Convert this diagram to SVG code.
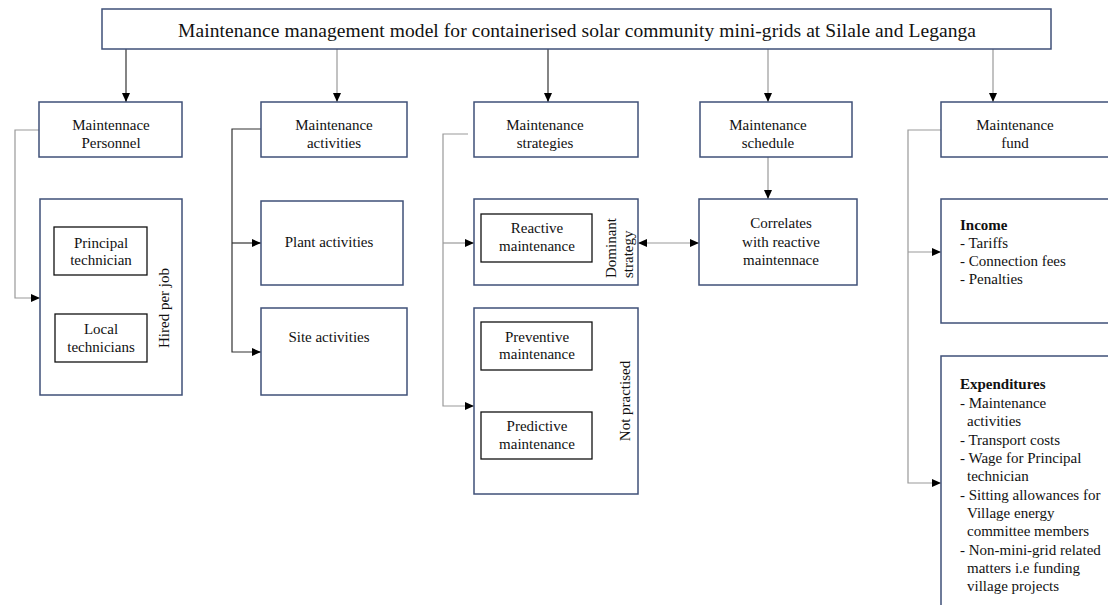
<svg xmlns="http://www.w3.org/2000/svg" width="1108" height="605" viewBox="0 0 1108 605">
  <style>
    text { font-family: "Liberation Serif", "Times New Roman", serif; font-size: 15px; fill: #111; }
    .title { font-size: 19.5px; }
    .mid { text-anchor: middle; }
    .box { fill: #fff; stroke: #3f5078; stroke-width: 1.5; }
    .inner { fill: #fff; stroke: #111; stroke-width: 1.3; }
    .line { fill: none; stroke: #999; stroke-width: 1.2; }
    .dark { stroke: #333; }
    .bold { font-weight: bold; }
  </style>
  <defs>
    <marker id="arrow" markerWidth="9" markerHeight="8" refX="9" refY="4" orient="auto-start-reverse" markerUnits="userSpaceOnUse">
      <path d="M0,0 L9,4 L0,8 z" fill="#000"/>
    </marker>
  </defs>

  <rect width="1108" height="605" fill="#fff"/>

  <!-- connectors -->
  <g id="connectors">
    <line class="line dark" x1="126" y1="49" x2="126" y2="102" marker-end="url(#arrow)"/>
    <line class="line" x1="337" y1="49" x2="337" y2="102" marker-end="url(#arrow)"/>
    <line class="line dark" x1="548" y1="49" x2="548" y2="102" marker-end="url(#arrow)"/>
    <line class="line" x1="768" y1="49" x2="768" y2="102" marker-end="url(#arrow)"/>
    <line class="line" x1="993" y1="49" x2="993" y2="102" marker-end="url(#arrow)"/>

    <!-- personnel -->
    <polyline class="line" points="39,130 15,130 15,298 40,298" marker-end="url(#arrow)"/>

    <!-- activities -->
    <polyline class="line dark" points="261,129 232,129 232,352 261,352" marker-end="url(#arrow)"/>
    <line class="line dark" x1="232" y1="243" x2="261" y2="243" marker-end="url(#arrow)"/>

    <!-- strategies -->
    <polyline class="line" points="468,134 443,134 443,406 474,406" marker-end="url(#arrow)"/>
    <line class="line" x1="443" y1="243" x2="474" y2="243" marker-end="url(#arrow)"/>

    <!-- schedule -->
    <line class="line" x1="768" y1="157" x2="768" y2="199" marker-end="url(#arrow)"/>
    <line class="line" x1="638" y1="243" x2="699" y2="243" marker-start="url(#arrow)" marker-end="url(#arrow)"/>

    <!-- fund -->
    <polyline class="line" points="941,130 908,130 908,483 941,483" marker-end="url(#arrow)"/>
    <line class="line" x1="908" y1="252" x2="941" y2="252" marker-end="url(#arrow)"/>
  </g>

  <!-- title -->
  <g id="title">
    <rect class="box" x="102" y="9" width="949" height="40"/>
    <text class="title mid" x="577" y="36.5" textLength="798" lengthAdjust="spacing">Maintenance management model for containerised solar community mini-grids at Silale and Leganga</text>
  </g>

  <!-- second row -->
  <g id="personnel">
    <rect class="box" x="39" y="102" width="143" height="55"/>
    <text class="mid" x="111" y="130">Maintennace</text>
    <text class="mid" x="111" y="148">Personnel</text>
  </g>
  <g id="activities">
    <rect class="box" x="261" y="102" width="146" height="55"/>
    <text class="mid" x="334" y="130">Maintenance</text>
    <text class="mid" x="334" y="148">activities</text>
  </g>
  <g id="strategies">
    <rect class="box" x="474" y="102" width="164" height="55"/>
    <text class="mid" x="545" y="130">Maintenance</text>
    <text class="mid" x="545" y="148">strategies</text>
  </g>
  <g id="schedule">
    <rect class="box" x="700" y="102" width="152" height="55"/>
    <text class="mid" x="768" y="130">Maintenance</text>
    <text class="mid" x="768" y="148">schedule</text>
  </g>
  <g id="fund">
    <rect class="box" x="941" y="102" width="180" height="55"/>
    <text class="mid" x="1015" y="130">Maintenance</text>
    <text class="mid" x="1015" y="148">fund</text>
  </g>

  <!-- personnel detail -->
  <g id="personnel-types">
    <rect class="box" x="40" y="199" width="142" height="196"/>
    <rect class="inner" x="54" y="227" width="93" height="48"/>
    <text class="mid" x="101" y="248">Principal</text>
    <text class="mid" x="101" y="265">technician</text>
    <rect class="inner" x="55" y="314" width="92" height="48"/>
    <text class="mid" x="101" y="334">Local</text>
    <text class="mid" x="101" y="352">technicians</text>
    <text class="mid" transform="translate(169,308) rotate(-90)">Hired per job</text>
  </g>

  <!-- activities detail -->
  <g id="plant-activities">
    <rect class="box" x="261" y="201" width="142" height="84"/>
    <text class="mid" x="329" y="247">Plant activities</text>
  </g>
  <g id="site-activities">
    <rect class="box" x="261" y="308" width="146" height="87"/>
    <text class="mid" x="329" y="342">Site activities</text>
  </g>

  <!-- strategies detail -->
  <g id="reactive">
    <rect class="box" x="474" y="199" width="164" height="86"/>
    <rect class="inner" x="481" y="214" width="111" height="48"/>
    <text class="mid" x="537" y="233">Reactive</text>
    <text class="mid" x="537" y="251">maintenance</text>
    <text transform="translate(616,278) rotate(-90)">Dominant</text>
    <text transform="translate(633,278) rotate(-90)">strategy</text>
  </g>
  <g id="not-practised">
    <rect class="box" x="474" y="308" width="164" height="186"/>
    <rect class="inner" x="481" y="322" width="111" height="48"/>
    <text class="mid" x="537" y="342">Preventive</text>
    <text class="mid" x="537" y="359">maintenance</text>
    <rect class="inner" x="481" y="412" width="111" height="47"/>
    <text class="mid" x="537" y="431">Predictive</text>
    <text class="mid" x="537" y="449">maintenance</text>
    <text class="mid" transform="translate(630,401) rotate(-90)">Not practised</text>
  </g>

  <!-- schedule detail -->
  <g id="correlates">
    <rect class="box" x="699" y="199" width="158" height="86"/>
    <text class="mid" x="781" y="228">Correlates</text>
    <text class="mid" x="781" y="247">with reactive</text>
    <text class="mid" x="781" y="265">maintennace</text>
  </g>

  <!-- fund detail -->
  <g id="income">
    <rect class="box" x="941" y="199" width="180" height="124"/>
    <text x="960" y="230" class="bold">Income</text>
    <text x="960" y="248">- Tariffs</text>
    <text x="960" y="266">- Connection fees</text>
    <text x="960" y="284">- Penalties</text>
  </g>
  <g id="expenditures">
    <rect class="box" x="941" y="356" width="180" height="270"/>
    <text x="960" y="389" class="bold">Expenditures</text>
    <text x="960" y="408">- Maintenance</text>
    <text x="967" y="426">activities</text>
    <text x="960" y="445">- Transport costs</text>
    <text x="960" y="463">- Wage for Principal</text>
    <text x="967" y="481">technician</text>
    <text x="960" y="500">- Sitting allowances for</text>
    <text x="967" y="518">Village energy</text>
    <text x="967" y="536">committee members</text>
    <text x="960" y="555">- Non-mini-grid related</text>
    <text x="967" y="573">matters i.e funding</text>
    <text x="967" y="591">village projects</text>
  </g>
</svg>
